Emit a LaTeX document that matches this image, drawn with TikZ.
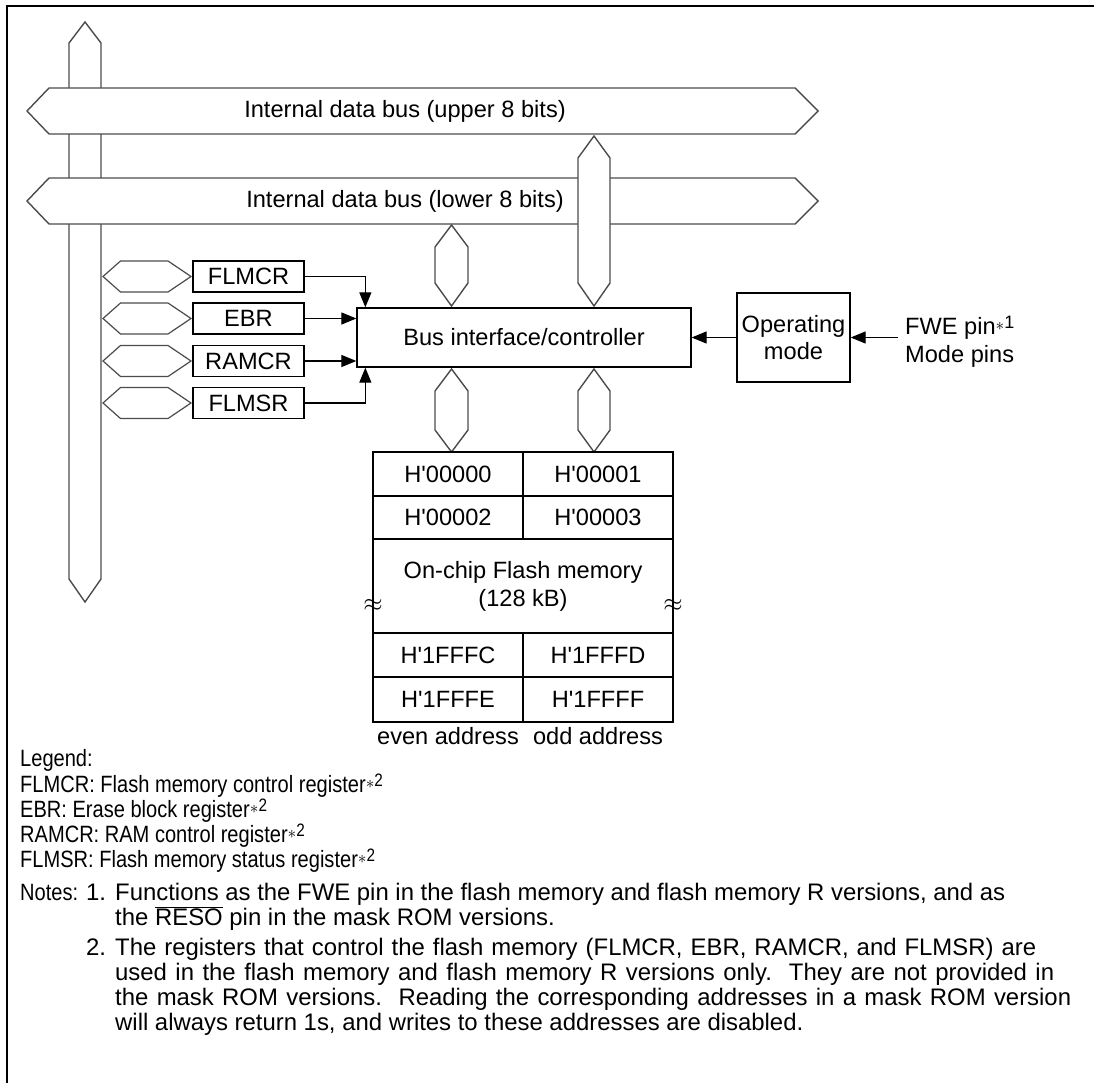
\documentclass[tikz,border=0pt]{standalone}
\usepackage{fontspec}
\setmainfont{Liberation Sans}
\newfontfamily\legendfont[FakeStretch=0.85]{Liberation Sans}
\usetikzlibrary{arrows.meta}
\newcommand\fnref[1]{\raisebox{4pt}{\fontsize{18}{18}\selectfont$\ast$\raisebox{2pt}{#1}}}
\newcommand\hq{\textquotesingle}
\begin{document}
\begin{tikzpicture}[x=1pt,y=-1pt,
  every node/.style={font=\fontsize{23.6}{28}\selectfont, inner sep=0pt},
  bus/.style={draw=black!70, line width=1.4pt, fill=white, line join=miter},
  box/.style={draw=black, line width=1.3pt, fill=white, rectangle},
  regbox/.style={box, minimum width=111pt, minimum height=31pt},
  cell/.style={box, minimum width=150pt, inner sep=0pt},
  arr/.style={line width=1.2pt, -{Triangle[length=15pt,width=12pt]}},
  txt/.style={anchor=base west, font=\fontsize{23.6}{28}\legendfont},
  ntxt/.style={anchor=base west, font=\fontsize{23.9}{28}\selectfont}
]
\useasboundingbox (0,0) rectangle (1094,1083);
% frame (top and left edges)
\draw[line width=1.4pt] (1094,6) -- (7,6) -- (7,1083);

% left vertical bus
\draw[bus] (69,43) -- (85,22) -- (101,43) -- (101,579) -- (85,602) -- (69,579) -- cycle;
% upper horizontal bus
\draw[bus] (49,88) -- (795,88) -- (818,111) -- (795,134) -- (49,134) -- (27,111) -- cycle;
\node (ubus) at (405,111) {Internal data bus (upper 8 bits)};
% lower horizontal bus
\draw[bus] (49,178) -- (795,178) -- (818,201) -- (795,224) -- (49,224) -- (27,201) -- cycle;
\node (lbus) at (405,201) {Internal data bus (lower 8 bits)};
% vertical bus from upper bus to controller
\draw[bus] (578,158) -- (594,136) -- (610,158) -- (610,283) -- (594,306) -- (578,283) -- cycle;
% short bus from lower bus to controller
\draw[bus] (435,247) -- (451.5,225) -- (468,247) -- (468,283) -- (451.5,306) -- (435,283) -- cycle;

% controller
\node[box, minimum width=334pt, minimum height=59pt] (ctrl) at (524,337.5) {Bus interface/controller};
% operating mode
\node[box, minimum width=113pt, minimum height=89pt, align=center] (op) at (793.5,337.5) {Operating\\[-1pt]mode};
\coordinate (pins) at (898,337.5);
\node[anchor=base west] (fwe) at (905,334) {FWE pin\fnref{1}};
\node[anchor=base west] (mode) at (905,362) {Mode pins};
\draw[arr] (pins) -- (op.east);
\draw[arr] (op.west) -- (ctrl.east);

% registers
\foreach \n/\y/\t in {flmcr/276.5/FLMCR, ebr/318.5/EBR, ramcr/361/RAMCR, flmsr/403/FLMSR}{
  \draw[bus, line width=1.2pt] (103,\y) -- (120.5,\y-15.5) -- (168,\y-15.5) -- (191,\y) -- (168,\y+15.5) -- (120.5,\y+15.5) -- cycle;
  \node[regbox] (\n) at (248.5,\y) {\t};
}
\draw[arr] (flmcr.east) -| ([xshift=9pt]ctrl.north west);
\draw[arr] (ebr.east) -- (ebr.east -| ctrl.west);
\draw[arr] (ramcr.east) -- (ramcr.east -| ctrl.west);
\draw[arr] (flmsr.east) -| ([xshift=9pt]ctrl.south west);

% buses from controller to memory
\draw[bus] (435,391) -- (451.5,369) -- (468,391) -- (468,430) -- (451.5,452) -- (435,430) -- cycle;
\draw[bus] (578,391) -- (594,369) -- (610,391) -- (610,430) -- (594,452) -- (578,430) -- cycle;

% memory
\node[cell, minimum height=44pt] (m0) at (448,474) {H\hq00000};
\node[cell, minimum height=44pt] (m1) at (598,474) {H\hq00001};
\node[cell, minimum height=43pt] (m2) at (448,517.5) {H\hq00002};
\node[cell, minimum height=43pt] (m3) at (598,517.5) {H\hq00003};
\node[box, minimum width=300pt, minimum height=94pt, align=center] (flash) at (523,586) {On-chip Flash memory\\(128 kB)};
\node[cell, minimum height=44pt] (m4) at (448,655) {H\hq1FFFC};
\node[cell, minimum height=44pt] (m5) at (598,655) {H\hq1FFFD};
\node[cell, minimum height=45pt] (m6) at (448,699.5) {H\hq1FFFE};
\node[cell, minimum height=45pt] (m7) at (598,699.5) {H\hq1FFFF};
\node (brkl) at (373,605) {\fontsize{26}{26}\selectfont$\approx$};
\node (brkr) at (673,605) {\fontsize{26}{26}\selectfont$\approx$};
\node[anchor=north] (even) at (448,727) {even address};
\node[anchor=north] (odd) at (598,727) {odd address};

% legend
\node[txt] (lg0) at (20,766) {Legend:};
\node[txt] (lg1) at (20,792) {FLMCR: Flash memory control register\fnref{2}};
\node[txt] (lg2) at (20,817) {EBR: Erase block register\fnref{2}};
\node[txt] (lg3) at (20,842) {RAMCR: RAM control register\fnref{2}};
\node[txt] (lg4) at (20,867) {FLMSR: Flash memory status register\fnref{2}};

% notes
\node[txt] (nt) at (20,900) {Notes:};
\node[ntxt] (n1) at (86,900) {1.};
\node[ntxt] (n1a) at (115,900) {\makebox[890pt][s]{Functions as the FWE pin in the flash memory and flash memory R versions, and as}};
\node[ntxt] (n1b) at (115,925) {the $\overline{\mbox{RESO}}$ pin in the mask ROM versions.};
\node[ntxt] (n2) at (86,955) {2.};
\node[ntxt] (n2a) at (115,955) {\makebox[921pt][s]{The registers that control the flash memory (FLMCR, EBR, RAMCR, and FLMSR) are}};
\node[ntxt] (n2b) at (115,980) {\makebox[939pt][s]{used in the flash memory and flash memory R versions only.\ \ They are not provided in}};
\node[ntxt] (n2c) at (115,1005) {\makebox[956pt][s]{the mask ROM versions.\ \ Reading the corresponding addresses in a mask ROM version}};
\node[ntxt] (n2d) at (115,1030) {will always return 1s, and writes to these addresses are disabled.};
\end{tikzpicture}
\end{document}
